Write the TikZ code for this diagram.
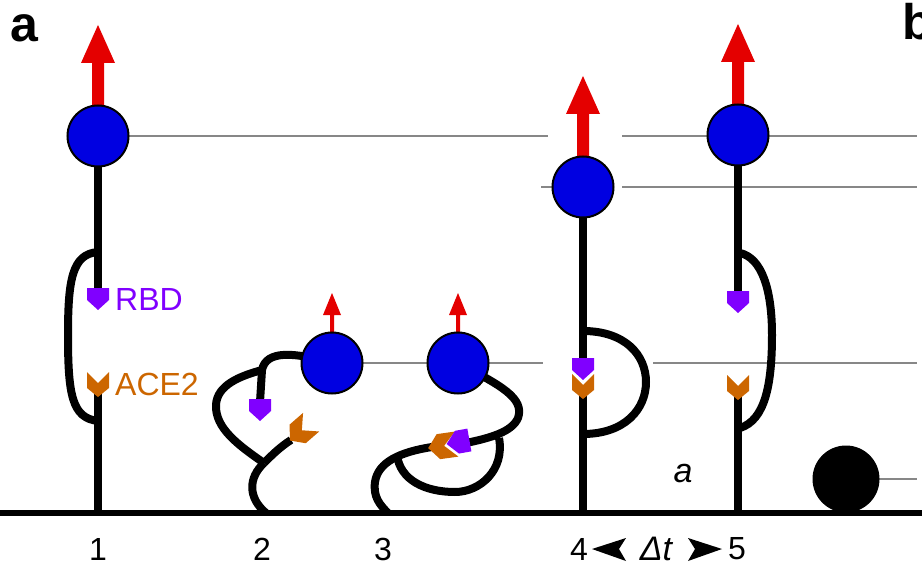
\documentclass[tikz,border=0pt]{standalone}
\usepackage{fontspec}
\setmainfont{Liberation Sans}
\usetikzlibrary{calc}
\definecolor{beadblue}{RGB}{0,0,225}
\definecolor{spinred}{RGB}{228,0,0}
\definecolor{rbdpurple}{RGB}{128,0,255}
\definecolor{aceorange}{RGB}{204,102,0}
\definecolor{guidegray}{RGB}{135,135,135}
\begin{document}
\begin{tikzpicture}[x=1pt,y=-1pt,
  strand/.style={line width=8pt, line join=round},
  guide/.style={draw=guidegray, line width=1.6pt},
  bead/.style={circle, fill=beadblue, draw=black, line width=2pt, minimum size=61pt, inner sep=0pt},
  lbl/.style={font=\fontsize{32}{36}\selectfont, inner sep=0pt},
  panel/.style={font=\fontsize{50}{50}\selectfont\bfseries, inner sep=0pt, anchor=base west},
  rbdmark/.pic={\fill[rbdpurple] (-11,-11) -- (11,-11) -- (11,1) -- (0,11) -- (-11,1) -- cycle;},
  acemark/.pic={\fill[aceorange] (-11,-12) -- (0,-1) -- (11,-12) -- (11,4) -- (0,13) -- (-11,4) -- cycle;},
  bigspin/.pic={\fill[spinred] (-6,0) -- (-6,-73) -- (-17,-73) -- (0,-111) -- (17,-73) -- (6,-73) -- (6,0) -- cycle;},
  smallspin/.pic={\fill[spinred] (-2,0) -- (-2,-48) -- (-9,-48) -- (0,-70) -- (9,-48) -- (2,-48) -- (2,0) -- cycle;}
]
\useasboundingbox (0,0) rectangle (922,567);
\clip (0,0) rectangle (922,567);

% bead positions
\coordinate (p1) at (98,136);
\coordinate (p2) at (332,363);
\coordinate (p3) at (458,363);
\coordinate (p4) at (583,187);
\coordinate (p5) at (738,135);

% horizontal height guides
\draw[guide] (p1) -- (548,136);
\draw[guide] (622,136) -- (917,136);
\draw[guide] (541,187) -- (p4);
\draw[guide] (622,187) -- (917,187);
\draw[guide] (p2) -- (p3);
\draw[guide] (p3) -- (543,363);
\draw[guide] (653,363) -- (917,363);
\draw[guide] (846,479) -- (917,479);

% spin arrows
\pic at (p1) {bigspin};
\pic at (p4) {bigspin};
\pic at (p5) {bigspin};
\pic at (p2) {smallspin};
\pic at (p3) {smallspin};

% surface
\coordinate (s0) at (0,513);
\coordinate (s1) at (922,513);
\draw[line width=6pt] (s0) -- (s1);

% tether 1: stretched, loop open
\coordinate (r1) at (98,299);
\coordinate (c1) at (98,384);
\draw[strand] (p1) -- (98,292);
\draw[strand] (98,394) -- (98,513);
\draw[strand] (98,252) .. controls (72,254) and (68,280) .. (68,335)
  .. controls (68,395) and (72,418) .. (98,421);

% tether 2: collapsed
\coordinate (r2) at (260,410);
\coordinate (c2) at (301,431);
\coordinate (j2) at (264,463);
\draw[strand] (p2) .. controls (294,352) and (266,350) .. (262,370) -- (260,402);
\draw[strand] (j2) .. controls (238,445) and (215,428) .. (216,405)
  .. controls (217,385) and (240,376) .. (262,370);
\draw[strand] (j2) .. controls (272,455) and (280,447) .. (291,440);
\draw[strand] (j2) .. controls (248,478) and (248,498) .. (266,513);

% tether 3: collapsed and bound
\coordinate (r3) at (458,442);
\coordinate (c3) at (443,446);
\draw[strand] (p3) .. controls (500,385) and (525,398) .. (518,418)
  .. controls (512,432) and (490,438) .. (466,443);
\draw[strand] (432,447) .. controls (400,452) and (378,462) .. (375,482)
  .. controls (373,497) and (380,505) .. (388,513);
\draw[strand] (499,438) .. controls (505,470) and (480,492) .. (455,492)
  .. controls (425,492) and (400,480) .. (397,455);

% tether 4: stretched and bound
\coordinate (r4) at (583,369);
\coordinate (c4) at (583,386);
\draw[strand] (p4) -- (583,365);
\draw[strand] (583,395) -- (583,513);
\draw[strand] (583,331) .. controls (625,331) and (646,355) .. (646,382)
  .. controls (646,409) and (625,434) .. (583,434);

% tether 5: stretched, loop open
\coordinate (r5) at (738,302);
\coordinate (c5) at (738,387);
\draw[strand] (p5) -- (738,295);
\draw[strand] (738,397) -- (738,513);
\draw[strand] (740,253) .. controls (762,258) and (772,290) .. (772,335)
  .. controls (772,385) and (765,420) .. (740,428);

% beads
\node[bead] (b1) at (p1) {};
\node[bead] (b2) at (p2) {};
\node[bead] (b3) at (p3) {};
\node[bead] (b4) at (p4) {};
\node[bead] (b5) at (p5) {};
\node[circle, fill=black, minimum size=67pt, inner sep=0pt] (ball) at (846,479) {};

% binding partners
\pic at (r1) {rbdmark};
\pic at (c1) {acemark};
\pic at (r2) {rbdmark};
\pic[rotate=-49, scale=1.12] at (c2) {acemark};
\pic[rotate=-82, scale=1.15] at (c3) {acemark};
\pic[rotate=-80, scale=1.05] at (r3) {rbdmark};
\pic at (c4) {acemark};
\pic at (r4) {rbdmark};
\pic at (r5) {rbdmark};
\pic at (c5) {acemark};

% labels
\node[lbl, text=rbdpurple, anchor=west] (trbd) at (115,299) {RBD};
\node[lbl, text=aceorange, anchor=west] (tace) at (115,384) {ACE2};
\node[lbl] (n1) at (98,549) {1};
\node[lbl] (n2) at (262,549) {2};
\node[lbl] (n3) at (383,549) {3};
\node[lbl] (n4) at (579,549) {4};
\node[lbl] (n5) at (737,549) {5};
\node[lbl, font=\fontsize{34}{36}\selectfont\itshape] (dt) at (656,549) {Δt};
\node[lbl, font=\fontsize{34}{36}\selectfont\itshape, anchor=base] (ta) at (683,482) {a};
\fill (592,549) -- (626,538) -- (619,549) -- (626,561) -- cycle;
\fill (722,549) -- (688,538) -- (695,549) -- (688,561) -- cycle;

% panel letters
\node[panel] (pa) at (10,42) {a};
\node[panel] (pb) at (902,40) {b};
\end{tikzpicture}
\end{document}
